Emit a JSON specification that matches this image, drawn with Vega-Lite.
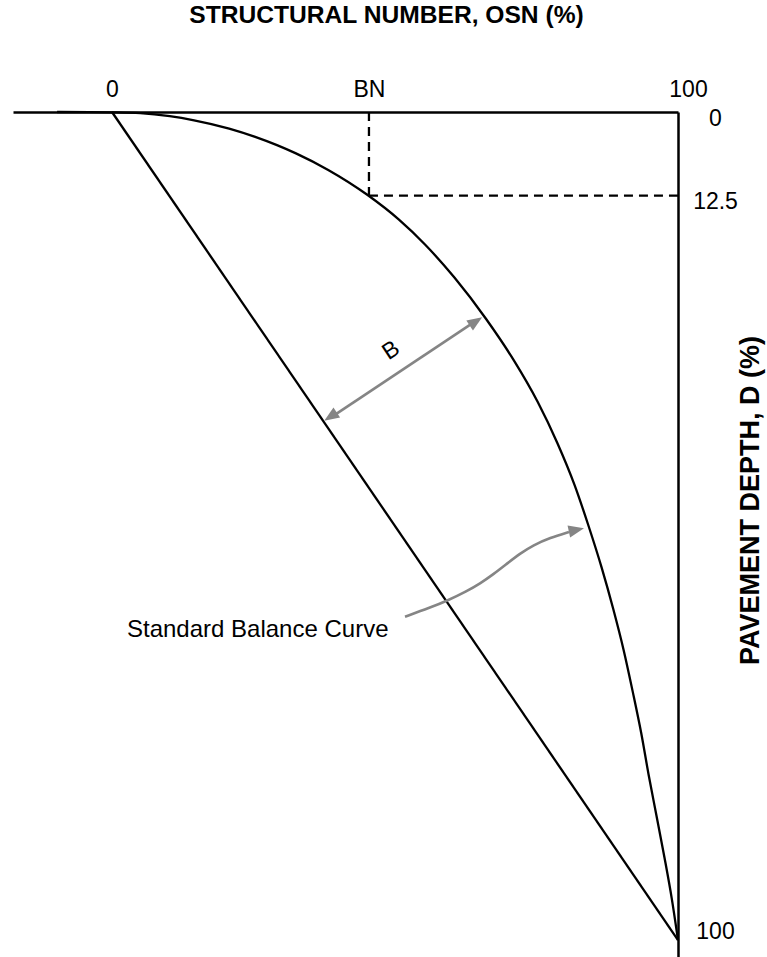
{
  "$schema": "https://vega.github.io/schema/vega-lite/v6.json",
  "width": 665,
  "height": 845,
  "autosize": {"type": "none"},
  "padding": {"left": 13, "top": 112, "right": 89, "bottom": 0},
  "background": "white",
  "config": {"view": {"stroke": null}, "font": "Liberation Sans"},
  "datasets": {
    "curve": [
      {"x": -9.7, "y": 0}, {"x": -4, "y": 0.01}, {"x": 0, "y": 0.04}, {"x": 5, "y": 0.14},
      {"x": 10.2, "y": 0.5}, {"x": 14.5, "y": 1}, {"x": 20.7, "y": 2}, {"x": 25.3, "y": 3},
      {"x": 29.15, "y": 4}, {"x": 32.5, "y": 5}, {"x": 38.2, "y": 7}, {"x": 45.1, "y": 10},
      {"x": 50.7, "y": 13}, {"x": 55.3, "y": 16}, {"x": 60.5, "y": 20}, {"x": 66.1, "y": 25},
      {"x": 71.0, "y": 30}, {"x": 75.2, "y": 35}, {"x": 78.7, "y": 40}, {"x": 81.7, "y": 45},
      {"x": 84.2, "y": 50}, {"x": 86.5, "y": 55}, {"x": 88.55, "y": 60}, {"x": 90.4, "y": 65},
      {"x": 92.0, "y": 70}, {"x": 93.5, "y": 75}, {"x": 94.8, "y": 80}, {"x": 96.2, "y": 85},
      {"x": 97.6, "y": 90}, {"x": 98.9, "y": 95}, {"x": 100, "y": 100}
    ],
    "straight": [{"x": 0, "y": 0}, {"x": 100, "y": 100}],
    "dashes": [
      {"x": 45.4, "x2": 45.4, "y": 0, "y2": 10.1},
      {"x": 45.4, "x2": 100, "y": 10.1, "y2": 10.1}
    ],
    "bline": [{"x": 39.3, "y": 36.6}, {"x": 63.9, "y": 25.4}],
    "btipStart": [{"x": 37.5, "y": 37.3}],
    "btipEnd": [{"x": 65.4, "y": 24.8}],
    "sline": [
      {"x": 51.77, "y": 60.95}, {"x": 56.18, "y": 59.86}, {"x": 59.13, "y": 59.05}, {"x": 62.66, "y": 57.88},
      {"x": 65.02, "y": 56.95}, {"x": 67.37, "y": 55.83}, {"x": 69.73, "y": 54.57}, {"x": 72.08, "y": 53.32},
      {"x": 74.44, "y": 52.31}, {"x": 77.39, "y": 51.41}, {"x": 80.74, "y": 50.72}
    ],
    "stip": [{"x": 83.39, "y": 50.28}],
    "labelCurve": [{"x": 2.65, "y": 62.6, "text": "Standard Balance Curve"}],
    "labelB": [{"x": 49.3, "y": 28.8, "text": "B"}]
  },
  "encoding": {
    "x": {
      "field": "x", "type": "quantitative",
      "scale": {"domain": [-17.49, 100], "nice": false, "zero": false},
      "axis": {
        "orient": "top", "values": [0, 45.4, 100],
        "labelExpr": "datum.value == 45.4 ? 'BN' : datum.label",
        "ticks": false, "tickSize": 0, "grid": false,
        "domainColor": "black", "domainWidth": 2.5,
        "labelFontSize": 23, "labelColor": "black", "labelPadding": 23,
        "labelBaseline": "middle", "labelAlign": "center", "labelFlush": false, "labelOverlap": false,
        "labelOffset": {"condition": {"test": "datum.value == 100", "value": 10}, "value": 0},
        "title": "STRUCTURAL NUMBER, OSN (%)", "titleFontSize": 24.6, "titleFontWeight": "bold",
        "titleColor": "black", "titleX": 373, "titleY": -97, "titleAlign": "center", "titleBaseline": "middle"
      }
    },
    "y": {
      "field": "y", "type": "quantitative",
      "scale": {"domain": [0, 102.05], "reverse": true, "nice": false, "zero": false},
      "axis": {
        "orient": "right", "values": [0, 10.1, 100],
        "labelExpr": "datum.value == 10.1 ? '12.5' : datum.label",
        "ticks": false, "tickSize": 0, "grid": false,
        "domainColor": "black", "domainWidth": 2.5,
        "labelFontSize": 23, "labelColor": "black", "labelPadding": 37,
        "labelBaseline": "middle", "labelAlign": "center", "labelFlush": false, "labelOverlap": false,
        "labelOffset": {"condition": {"test": "datum.value == 100", "value": -9}, "value": 6},
        "title": "PAVEMENT DEPTH, D (%)", "titleFontSize": 27, "titleFontWeight": "bold",
        "titleColor": "black", "titleAngle": 270, "titleX": 72, "titleY": 388,
        "titleAlign": "center", "titleBaseline": "middle"
      }
    }
  },
  "layer": [
    {"data": {"name": "straight"}, "mark": {"type": "line", "color": "black", "strokeWidth": 2.3}},
    {"data": {"name": "curve"}, "mark": {"type": "line", "color": "black", "strokeWidth": 2.3, "interpolate": "monotone"}},
    {
      "data": {"name": "dashes"},
      "mark": {"type": "rule", "color": "black", "strokeWidth": 2.3, "strokeDash": [9, 6]},
      "encoding": {"x2": {"field": "x2"}, "y2": {"field": "y2"}}
    },
    {"data": {"name": "bline"}, "mark": {"type": "line", "color": "#858585", "strokeWidth": 2.6}},
    {"data": {"name": "btipStart"}, "mark": {"type": "point", "shape": "M0,0L-2,-0.8L-2,0.8Z", "size": 225, "filled": true, "color": "#858585", "opacity": 1, "strokeWidth": 0, "angle": 146.6}},
    {"data": {"name": "btipEnd"}, "mark": {"type": "point", "shape": "M0,0L-2,-0.8L-2,0.8Z", "size": 225, "filled": true, "color": "#858585", "opacity": 1, "strokeWidth": 0, "angle": 326.6}},
    {"data": {"name": "sline"}, "mark": {"type": "line", "color": "#858585", "strokeWidth": 2.6, "interpolate": "basis"}},
    {"data": {"name": "stip"}, "mark": {"type": "point", "shape": "M0,0L-2,-0.8L-2,0.8Z", "size": 240, "filled": true, "color": "#858585", "opacity": 1, "strokeWidth": 0, "angle": 348}},
    {
      "data": {"name": "labelCurve"},
      "mark": {"type": "text", "align": "left", "baseline": "middle", "fontSize": 24, "color": "black"},
      "encoding": {"text": {"field": "text"}}
    },
    {
      "data": {"name": "labelB"},
      "mark": {"type": "text", "align": "center", "baseline": "middle", "fontSize": 23, "color": "black", "angle": 326.6},
      "encoding": {"text": {"field": "text"}}
    }
  ]
}
